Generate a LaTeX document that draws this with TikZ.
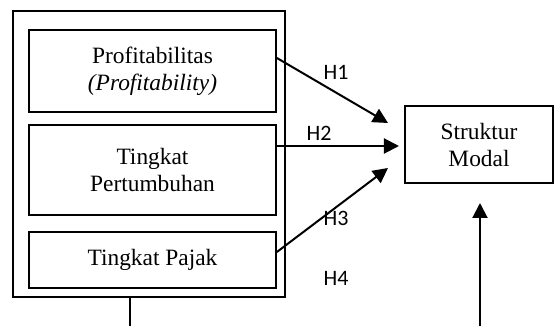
\documentclass[tikz,border=0pt]{standalone}
\usepackage{fontspec}
\setmainfont{Liberation Serif}
\newfontfamily\hfont{Carlito}
\usepackage{tikz}
\usetikzlibrary{positioning,arrows.meta}

\begin{document}
\begin{tikzpicture}[x=0.5pt, y=-0.5pt, line width=0.9pt,
outerbox/.style={rectangle, draw=black, minimum width=136pt, minimum height=143pt},
varbox/.style={rectangle, draw=black, minimum width=123.5pt, align=center, inner sep=0pt, font=\fontsize{11.7}{13.5}\selectfont},
hlabel/.style={font=\hfont\fontsize{11}{13}\selectfont},
arrow/.style={line width=1pt, -{Triangle[length=7.5pt,width=7.5pt]}},
]
\useasboundingbox (0,0) rectangle (554,326);
%Nodes
\node[outerbox]      (outer)      at (149,154)        {};
\node[varbox, minimum height=41pt]      (prof)      at (152.5,71)        {Profitabilitas\\\textit{(Profitability)}};
\node[varbox, minimum height=45pt]      (growth)      at (152.5,170)        {Tingkat\\Pertumbuhan};
\node[varbox, minimum height=28pt]      (tax)      at (152.5,260)        {Tingkat Pajak};
\node[varbox, minimum width=74pt, minimum height=38.5pt]      (modal)      at (479,144.5)        {Struktur\\Modal};

\node[hlabel]      (h1)      at (336,72)        {H1};
\node[hlabel]      (h2)      at (319,133)        {H2};
\node[hlabel]      (h3)      at (336,218)        {H3};
\node[hlabel]      (h4)      at (336,278)        {H4};

\coordinate (h1end) at (388,123);
\coordinate (h2end) at (399,146);
\coordinate (h3end) at (388,168);
\coordinate (h4start) at (480,326);
\coordinate (h4end) at (480,203);
\coordinate (outerfoot) at (130,326);

%Lines
\draw[arrow] ([yshift=6.5pt]prof.east) -- (h1end);
\draw[arrow] ([yshift=12pt]growth.east) -- (h2end);
\draw[arrow] ([yshift=4pt]tax.east) -- (h3end);
\draw (outer.south -| outerfoot) -- (outerfoot);
\draw[arrow] (h4start) -- (h4end);
\end{tikzpicture}
\end{document}
